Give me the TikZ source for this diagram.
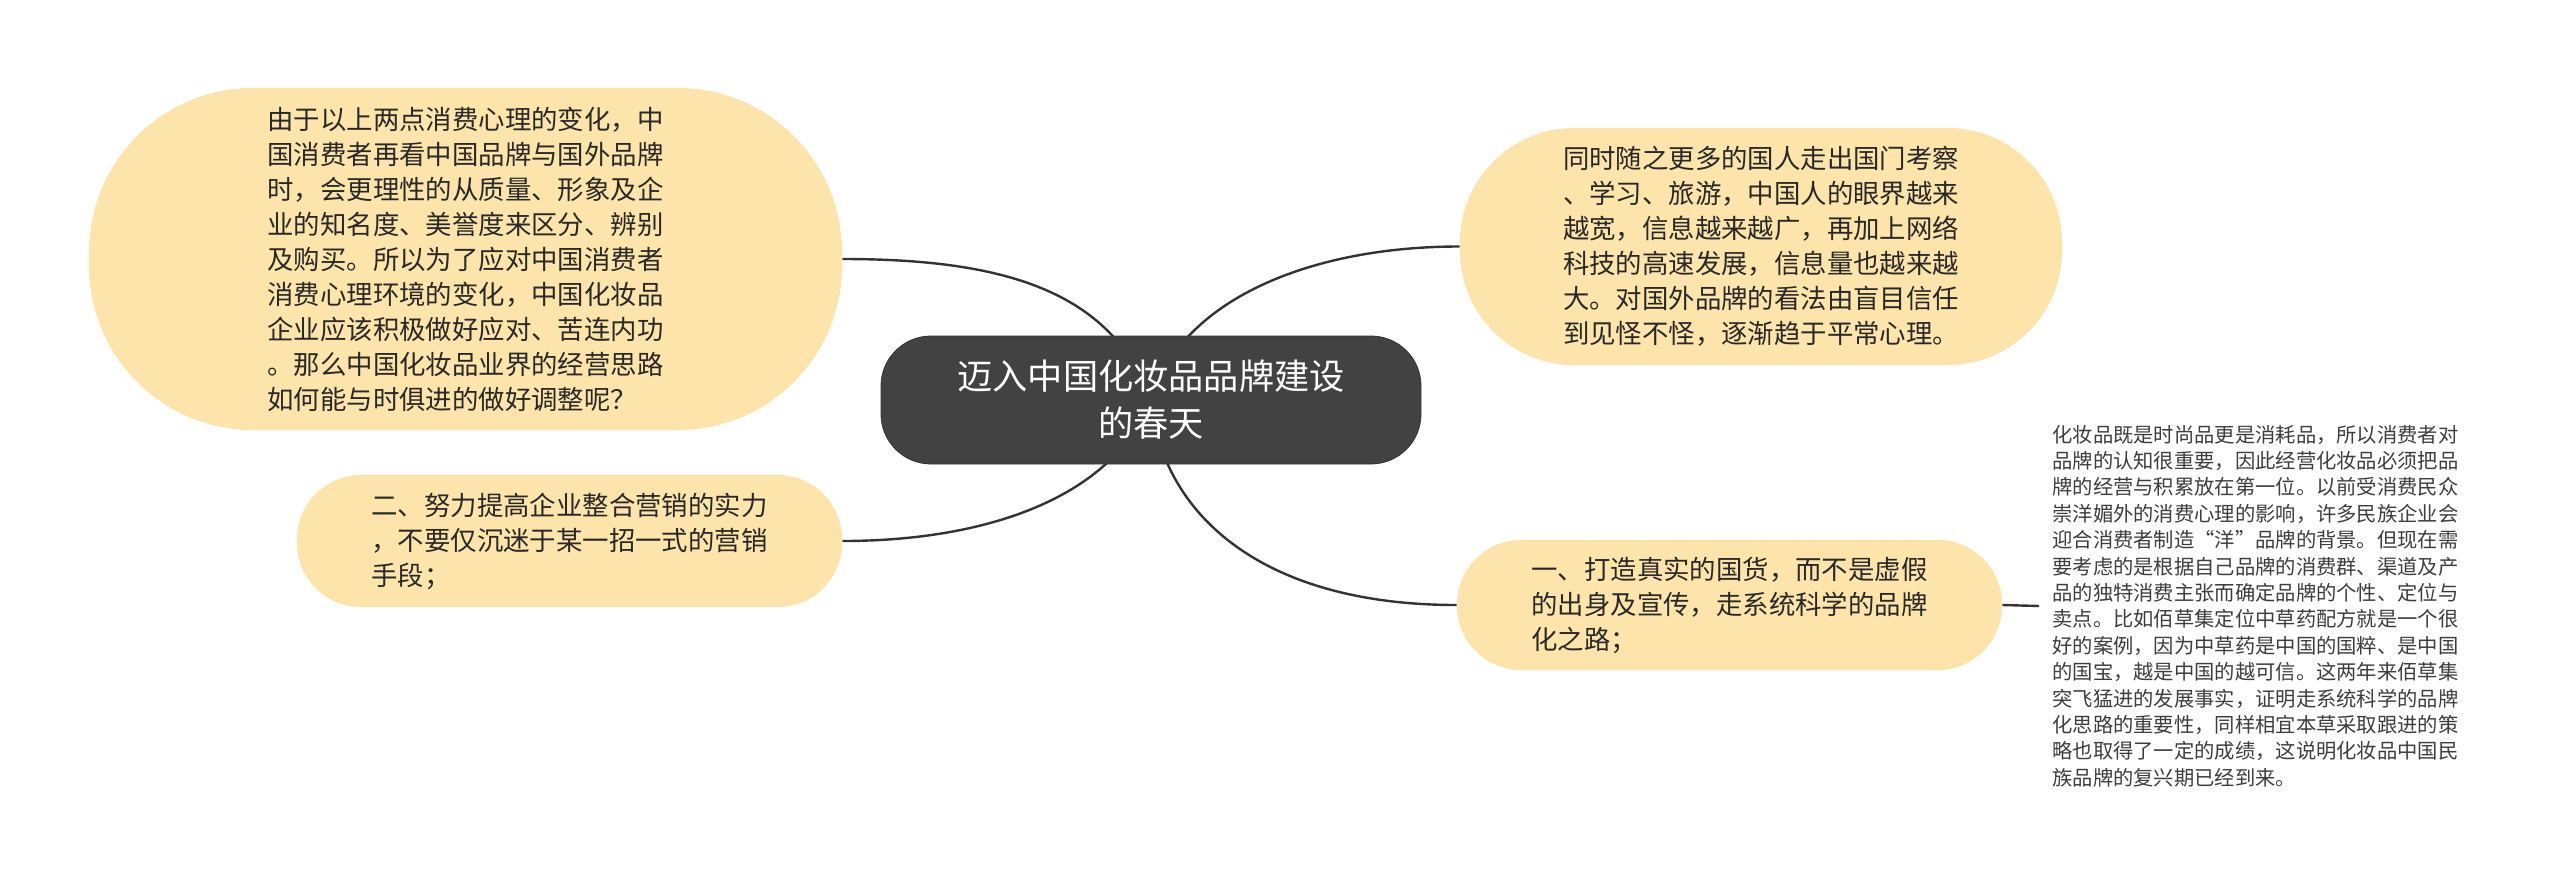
\documentclass[tikz,border=0pt]{standalone}
\usepackage{fontspec}
\setmainfont{Noto Sans CJK SC}
\usetikzlibrary{backgrounds}
\definecolor{leafyellow}{RGB}{253,228,170}
\definecolor{rootgray}{RGB}{66,66,66}
\definecolor{inkgray}{RGB}{40,40,40}
\definecolor{linegray}{RGB}{51,51,51}
\begin{document}
\begin{tikzpicture}[x=0.5pt,y=-0.5pt,
  topic/.style={fill=rootgray,draw=black!80,line width=0.4pt,text=white,align=center,inner sep=0pt,
    rounded corners=25pt,minimum width=270pt,minimum height=64pt,font=\fontsize{17.6pt}{23.5pt}\selectfont},
  leaf/.style={fill=leafyellow,text=inkgray,align=left,inner sep=0pt,
    font=\fontsize{13.2pt}{17.5pt}\selectfont},
  note/.style={text=inkgray!90,align=left,inner xsep=6.5pt,inner ysep=0pt,anchor=west,
    font=\fontsize{10.15pt}{13.2pt}\selectfont},
  branch/.style={draw=linegray,line width=1.2pt}]
\useasboundingbox (0,0) rectangle (2560,889);

\node[topic] (root) at (1151,400) {迈入中国化妆品品牌建设\\的春天};

\node[leaf,minimum width=376.5pt,minimum height=171pt,rounded corners=82pt] (why) at (465.5,259)
  {由于以上两点消费心理的变化，中\\国消费者再看中国品牌与国外品牌\\时，会更理性的从质量、形象及企\\业的知名度、美誉度来区分、辨别\\及购买。所以为了应对中国消费者\\消费心理环境的变化，中国化妆品\\企业应该积极做好应对、苦连内功\\。那么中国化妆品业界的经营思路\\如何能与时俱进的做好调整呢？};
\node[leaf,minimum width=301pt,minimum height=118.5pt,rounded corners=57pt] (travel) at (1761,246.5)
  {同时随之更多的国人走出国门考察\\、学习、旅游，中国人的眼界越来\\越宽，信息越来越广，再加上网络\\科技的高速发展，信息量也越来越\\大。对国外品牌的看法由盲目信任\\到见怪不怪，逐渐趋于平常心理。};
\node[leaf,minimum width=272.5pt,minimum height=66pt,rounded corners=32pt] (second) at (569.5,541)
  {二、努力提高企业整合营销的实力\\，不要仅沉迷于某一招一式的营销\\手段；};
\node[leaf,minimum width=272.5pt,minimum height=65pt,rounded corners=32pt] (first) at (1729.5,605)
  {一、打造真实的国货，而不是虚假\\的出身及宣传，走系统科学的品牌\\化之路；};

\node[note] (case) at (2039,606)
  {化妆品既是时尚品更是消耗品，所以消费者对\\品牌的认知很重要，因此经营化妆品必须把品\\牌的经营与积累放在第一位。以前受消费民众\\崇洋媚外的消费心理的影响，许多民族企业会\\迎合消费者制造“洋”品牌的背景。但现在需\\要考虑的是根据自己品牌的消费群、渠道及产\\品的独特消费主张而确定品牌的个性、定位与\\卖点。比如佰草集定位中草药配方就是一个很\\好的案例，因为中草药是中国的国粹、是中国\\的国宝，越是中国的越可信。这两年来佰草集\\突飞猛进的发展事实，证明走系统科学的品牌\\化思路的重要性，同样相宜本草采取跟进的策\\略也取得了一定的成绩，这说明化妆品中国民\\族品牌的复兴期已经到来。};

% branches run behind the topic
\begin{scope}[on background layer]
\draw[branch] (root.center) .. controls +(-40,-110) and +(160,0) .. (why.east);
\draw[branch] (root.center) .. controls +(30,-100) and +(-150,0) .. (travel.west);
\draw[branch] (root.center) .. controls +(-40,100) and +(140,0) .. (second.east);
\draw[branch] (root.center) .. controls +(10,110) and +(-200,0) .. (first.west);
\draw[branch] (first.east) -- (case.west);
\end{scope}
\end{tikzpicture}
\end{document}
